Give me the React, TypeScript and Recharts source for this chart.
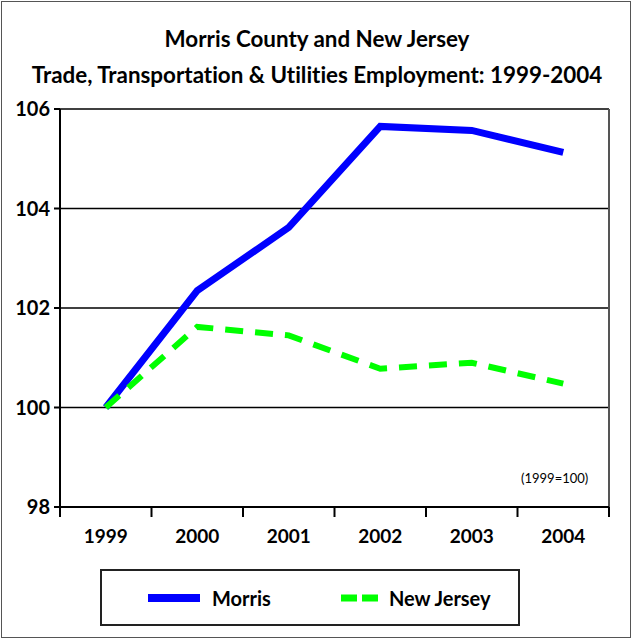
import { LineChart, Line, XAxis, YAxis, CartesianGrid, ReferenceLine } from 'recharts'

const years = ['1999', '2000', '2001', '2002', '2003', '2004']
const morris = [100, 102.35, 103.62, 105.65, 105.57, 105.13]
const newJersey = [100, 101.62, 101.45, 100.78, 100.9, 100.48]
const yTicks = [98, 100, 102, 104, 106]

const data = years.map((year, i) => ({ x: i, year, morris: morris[i], nj: newJersey[i] }))
const xBounds = years.map((_, i) => i - 0.5).concat([years.length - 0.5])

const FONT = 'Lato, "Open Sans", sans-serif'
const HALF_STEP = 549 / years.length / 2

// year label sits halfway between the boundary ticks
function YearTick({ x, y, payload }: any) {
  const idx = payload.value + 0.5
  if (idx >= years.length) return null
  return (
    <text x={x + HALF_STEP} y={y + 24} textAnchor="middle" fontSize={19} fontWeight="bold" fill="#000" fontFamily={FONT}>
      {years[idx]}
    </text>
  )
}

function LegendBox() {
  return (
    <div
      style={{
        position: 'absolute',
        left: 100,
        top: 569,
        width: 416,
        height: 53,
        border: '2px solid #222',
        display: 'flex',
        alignItems: 'center',
        fontFamily: FONT,
        fontWeight: 'bold',
        fontSize: 20,
        color: '#000',
        background: '#fff',
      }}
    >
      <svg width={56} height={10} style={{ marginLeft: 46 }}>
        <line x1={0} y1={5} x2={52} y2={5} stroke="#0000ff" strokeWidth={8} />
      </svg>
      <span style={{ marginLeft: 8 }}>Morris</span>
      <svg width={40} height={10} style={{ marginLeft: 70 }}>
        <line x1={0} y1={5} x2={38} y2={5} stroke="#00ff00" strokeWidth={7} strokeDasharray="16 5" />
      </svg>
      <span style={{ marginLeft: 8 }}>New Jersey</span>
    </div>
  )
}

export default function App() {
  return (
    <div style={{ position: 'absolute', left: 0, top: 0, width: 634, height: 641, background: '#fff' }}>
      <div
        style={{
          position: 'absolute', left: 1, top: 1, width: 630, height: 637,
          border: '1px solid #555', boxSizing: 'border-box',
        }}
      />
      <div
        style={{
          position: 'absolute', left: 0, top: 21, width: 634, textAlign: 'center',
          fontFamily: FONT, fontWeight: 'bold', fontSize: 22.4, lineHeight: '36px', color: '#000',
          fontVariantLigatures: 'none',
        }}
      >
        <div>Morris County and New Jersey</div>
        <div>Trade, Transportation &amp; Utilities Employment: 1999-2004</div>
      </div>
      <div style={{ position: 'absolute', left: 0, top: 0 }}>
        <LineChart width={634} height={641} data={data} margin={{ top: 109, right: 25, left: 0, bottom: 0 }}>
          <CartesianGrid vertical={false} stroke="#000" strokeWidth={1.5} />
          <XAxis
            dataKey="x"
            type="number"
            domain={[-0.5, years.length - 0.5]}
            ticks={xBounds}
            interval={0}
            tick={<YearTick />}
            tickSize={10}
            stroke="#000"
            strokeWidth={2}
            height={134}
          />
          <YAxis
            domain={[98, 106]}
            ticks={yTicks}
            interval={0}
            width={60}
            tickSize={6}
            tickMargin={4}
            stroke="#000"
            strokeWidth={2}
            tick={{ fill: '#000', fontSize: 20, fontWeight: 'bold', fontFamily: FONT }}
          />
          <ReferenceLine x={years.length - 0.5} stroke="#555" strokeWidth={2} />
          <Line
            dataKey="morris"
            name="Morris"
            stroke="#0000ff"
            strokeWidth={7}
            dot={false}
            isAnimationActive={false}
          />
          <Line
            dataKey="nj"
            name="New Jersey"
            stroke="#00ff00"
            strokeWidth={6}
            strokeDasharray="18 12"
            dot={false}
            isAnimationActive={false}
          />
        </LineChart>
      </div>
      <LegendBox />
      <div
        style={{
          position: 'absolute', left: 521, top: 470, fontFamily: FONT, fontSize: 13, color: '#000',
        }}
      >
        (1999=100)
      </div>
    </div>
  )
}
